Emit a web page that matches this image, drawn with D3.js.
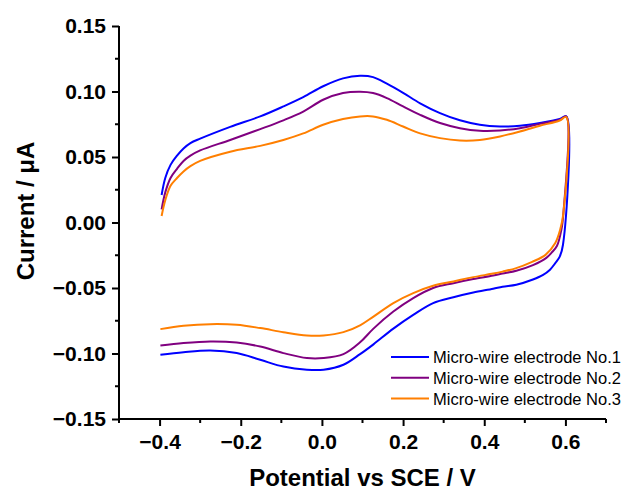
<!DOCTYPE html>
<html>
<head>
<meta charset="utf-8">
<script src="https://cdn.jsdelivr.net/npm/d3@7"></script>
<style>
  body { margin: 0; background: #fff; }
  svg text { font-family: Arial, 'Liberation Sans', sans-serif; }
</style>
</head>
<body>
<div id="playground"></div>
<script>
// Series
var names = ['Micro-wire electrode No.1', 'Micro-wire electrode No.2', 'Micro-wire electrode No.3']
var colors = ['#0000FF', '#800080', '#FF7F00']

// Anodic scan (-0.4 -> 0.6 V), potential in V, current in uA
var potentialFwd = [-0.395, -0.386, -0.373, -0.357, -0.341, -0.324, -0.3, -0.226, -0.152, -0.095, -0.046, 0.003, 0.052, 0.094, 0.126, 0.16, 0.2, 0.242, 0.291, 0.34, 0.389, 0.439, 0.488, 0.537, 0.586, 0.602]
var currentFwd1 = [0.021, 0.034, 0.044, 0.051, 0.0565, 0.0606, 0.064, 0.073, 0.081, 0.0886, 0.0957, 0.104, 0.110, 0.112, 0.111, 0.106, 0.099, 0.091, 0.0835, 0.078, 0.0746, 0.0733, 0.0738, 0.0759, 0.079, 0.081]
var currentFwd2 = [0.010, 0.023, 0.034, 0.041, 0.047, 0.051, 0.055, 0.063, 0.0713, 0.078, 0.0847, 0.0937, 0.0988, 0.0998, 0.0988, 0.095, 0.0886, 0.0822, 0.0759, 0.072, 0.070, 0.0702, 0.072, 0.0753, 0.0784, 0.081]
var currentFwd3 = [0.005, 0.017, 0.028, 0.034, 0.039, 0.043, 0.047, 0.054, 0.0585, 0.063, 0.068, 0.0746, 0.079, 0.081, 0.081, 0.0784, 0.0733, 0.068, 0.0644, 0.0626, 0.063, 0.0657, 0.0695, 0.0738, 0.0779, 0.0805]

// Cathodic scan (0.6 -> -0.4 V)
var potentialRev1 = [0.594, 0.586, 0.575, 0.562, 0.545, 0.52, 0.479, 0.445, 0.422, 0.373, 0.324, 0.274, 0.225, 0.176, 0.127, 0.094, 0.053, 0.004, -0.037, -0.095, -0.152, -0.21, -0.275, -0.341, -0.398]
var currentRev1 = [-0.017, -0.026, -0.031, -0.036, -0.040, -0.0435, -0.0475, -0.049, -0.0506, -0.0534, -0.057, -0.0615, -0.0705, -0.081, -0.093, -0.1005, -0.1086, -0.1124, -0.1124, -0.110, -0.1048, -0.0997, -0.0977, -0.099, -0.101]
var potentialRev2 = [0.595, 0.59, 0.579, 0.566, 0.553, 0.52, 0.479, 0.445, 0.422, 0.373, 0.324, 0.274, 0.225, 0.176, 0.127, 0.094, 0.053, 0.004, -0.037, -0.095, -0.152, -0.21, -0.275, -0.341, -0.398]
var currentRev2 = [0.007, -0.0056, -0.018, -0.023, -0.027, -0.0325, -0.0368, -0.039, -0.0405, -0.0432, -0.0463, -0.050, -0.0577, -0.068, -0.081, -0.0915, -0.1005, -0.1035, -0.1035, -0.0997, -0.0947, -0.0916, -0.0908, -0.092, -0.0939]
var potentialRev3 = [0.595, 0.587, 0.575, 0.551, 0.518, 0.477, 0.445, 0.422, 0.373, 0.324, 0.274, 0.225, 0.176, 0.127, 0.094, 0.053, 0.004, -0.037, -0.095, -0.152, -0.21, -0.275, -0.341, -0.398]
var currentRev3 = [0.007, -0.0056, -0.0157, -0.0247, -0.030, -0.035, -0.0375, -0.039, -0.0417, -0.045, -0.0483, -0.0539, -0.0615, -0.0718, -0.0785, -0.0837, -0.0862, -0.0862, -0.0837, -0.0806, -0.0781, -0.0776, -0.0789, -0.0814]

// Axes
var xTicks = [-0.4, -0.2, 0.0, 0.2, 0.4, 0.6]
var xMinor = [-0.5, -0.3, -0.1, 0.1, 0.3, 0.5, 0.7]
var yTicks = [-0.15, -0.10, -0.05, 0.00, 0.05, 0.10, 0.15]
var yMinor = [-0.125, -0.075, -0.025, 0.025, 0.075, 0.125]

var settings = {}
settings.width = 622
settings.height = 491
settings.margin = {left: 119, top: 26, right: 16, bottom: 72}
settings.tick_font_size = 21
settings.title_font_size = 24
settings.legend_font_size = 16.5
settings.line_width = 2

var svg = d3.select('#playground').append('svg')
  .attr('width', settings.width)
  .attr('height', settings.height)

var m = settings.margin
var x = d3.scaleLinear().domain([-0.5, 0.7]).range([m.left, settings.width - m.right])
var y = d3.scaleLinear().domain([-0.15, 0.15]).range([settings.height - m.bottom, m.top])

// Build the series: forward scan then reverse scan
var fwdI = [currentFwd1, currentFwd2, currentFwd3]
var revE = [potentialRev1, potentialRev2, potentialRev3]
var revI = [currentRev1, currentRev2, currentRev3]
var series = names.map(function(name, k){
  var pts = potentialFwd.map(function(e, i){ return [e, fwdI[k][i]] })
  revE[k].forEach(function(e, i){ pts.push([e, revI[k][i]]) })
  return {name: name, color: colors[k], points: pts}
})

var line = d3.line()
  .x(function(d){ return x(d[0]) })
  .y(function(d){ return y(d[1]) })
  .curve(d3.curveCatmullRom.alpha(0.5))

series.forEach(function(s){
  svg.append('path')
    .attr('d', line(s.points))
    .attr('fill', 'none')
    .attr('stroke', s.color)
    .attr('stroke-width', settings.line_width)
    .attr('stroke-linejoin', 'round')
})

// X axis
var xAxis = svg.append('g')
  .attr('transform', 'translate(0,' + y(-0.15) + ')')
  .call(d3.axisBottom(x).tickValues(xTicks).tickSize(7).tickPadding(8).tickFormat(d3.format('.1f')))
xAxis.append('g').selectAll('line').data(xMinor).join('line')
  .attr('x1', function(d){ return x(d) }).attr('x2', function(d){ return x(d) })
  .attr('y1', 0).attr('y2', 4)
  .attr('stroke', '#000').attr('stroke-width', 2)

// Y axis
var yAxis = svg.append('g')
  .attr('transform', 'translate(' + x(-0.5) + ',0)')
  .call(d3.axisLeft(y).tickValues(yTicks).tickSize(7).tickPadding(6).tickFormat(d3.format('.2f')))
yAxis.append('g').selectAll('line').data(yMinor).join('line')
  .attr('y1', function(d){ return y(d) }).attr('y2', function(d){ return y(d) })
  .attr('x1', 0).attr('x2', -4)
  .attr('stroke', '#000').attr('stroke-width', 2)

svg.selectAll('.domain').attr('stroke-width', 2)
xAxis.select('.domain').attr('d', 'M' + x(-0.5) + ',0H' + x(0.7))
yAxis.select('.domain').attr('d', 'M0,' + y(0.15) + 'V' + y(-0.15))
svg.selectAll('.tick line').attr('stroke-width', 2)
svg.selectAll('.tick text')
  .attr('font-size', settings.tick_font_size)
  .attr('font-weight', 'bold')
  .attr('font-family', 'Arial, Liberation Sans, sans-serif')
  .attr('fill', '#000')

// Axis titles
svg.append('text')
  .attr('x', (x(-0.5) + x(0.7)) / 2)
  .attr('y', 486)
  .attr('text-anchor', 'middle')
  .attr('font-size', settings.title_font_size)
  .attr('font-weight', 'bold')
  .text('Potential vs SCE / V')

svg.append('text')
  .attr('transform', 'translate(34,' + 211 + ') rotate(-90)')
  .attr('text-anchor', 'middle')
  .attr('font-size', settings.title_font_size)
  .attr('font-weight', 'bold')
  .text('Current / μA')

// Legend
var legend = svg.append('g').attr('transform', 'translate(391,357)')
series.forEach(function(s, k){
  var row = legend.append('g').attr('transform', 'translate(0,' + k * 20.8 + ')')
  row.append('line')
    .attr('x1', 0).attr('x2', 38)
    .attr('stroke', s.color)
    .attr('stroke-width', settings.line_width)
  row.append('text')
    .attr('x', 42)
    .attr('y', 6)
    .attr('font-size', settings.legend_font_size)
    .attr('fill', '#000')
    .text(s.name)
})
</script>
</body>
</html>
